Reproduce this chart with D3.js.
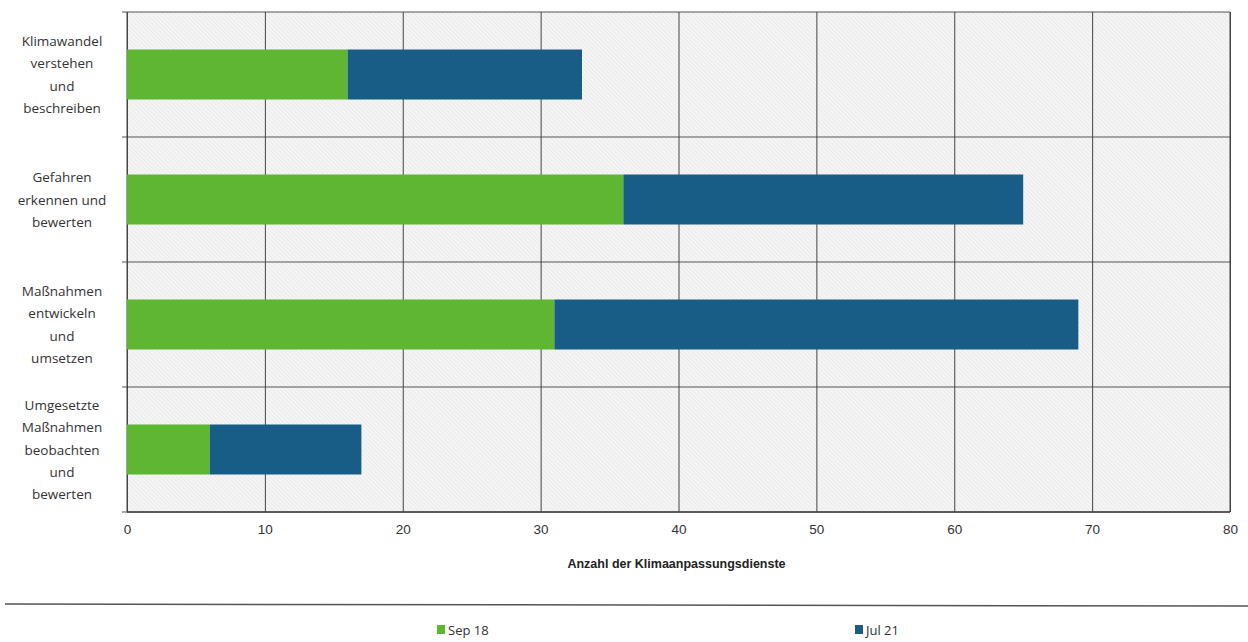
<!DOCTYPE html>
<html>
<head>
<meta charset="utf-8">
<script src="https://cdn.jsdelivr.net/npm/d3@7"></script>
<style>
  body { margin: 0; background: #fff; }
  svg { font-family: "Open Sans", "Liberation Sans", sans-serif; }
</style>
</head>
<body>
<svg></svg>
<script>
const categories = [
  ["Klimawandel", "verstehen", "und", "beschreiben"],
  ["Gefahren", "erkennen und", "bewerten"],
  ["Maßnahmen", "entwickeln", "und", "umsetzen"],
  ["Umgesetzte", "Maßnahmen", "beobachten", "und", "bewerten"]
];
const sep18 = [16, 36, 31, 6];
const jul21 = [17, 29, 38, 11];
const seriesNames = ["Sep 18", "Jul 21"];
const colors = ["#5fb632", "#175d86"];
const xTicks = [0, 10, 20, 30, 40, 50, 60, 70, 80];
const xAxisLabel = "Anzahl der Klimaanpassungsdienste";

const width = 1248, height = 642;
const svg = d3.select("svg").attr("width", width).attr("height", height);

const margin = { left: 127, right: 18, top: 12, bottom: 130 };
const graphWidth = width - margin.left - margin.right;
const graphHeight = height - margin.top - margin.bottom;

const defs = svg.append("defs");
const pat = defs.append("pattern")
  .attr("id", "hatch")
  .attr("patternUnits", "userSpaceOnUse")
  .attr("width", 3).attr("height", 3)
  .attr("patternTransform", "rotate(-45)");
pat.append("rect").attr("width", 3).attr("height", 3).attr("fill", "#f5f5f5");
pat.append("line").attr("x1", 0).attr("y1", 0).attr("x2", 0).attr("y2", 3)
  .attr("stroke", "#dadada").attr("stroke-width", 0.8);

const xScale = d3.scaleLinear().domain([0, 80]).range([0, graphWidth]);
const idx = d3.range(categories.length);
const yScale = d3.scaleBand().domain(idx).range([0, graphHeight]).paddingInner(0.6).paddingOuter(0.3);
const bandScale = d3.scaleBand().domain(idx).range([0, graphHeight]);

const g = svg.append("g").attr("transform", `translate(${margin.left}, ${margin.top})`);

g.append("rect").attr("width", graphWidth).attr("height", graphHeight).attr("fill", "url(#hatch)");

// horizontal category separators
g.append("g").selectAll("line")
  .data(d3.range(categories.length + 1))
  .join("line")
  .attr("x1", -5).attr("x2", graphWidth)
  .attr("y1", (d) => d * bandScale.bandwidth())
  .attr("y2", (d) => d * bandScale.bandwidth())
  .attr("stroke", "#555").attr("stroke-width", 1);

// vertical gridlines + x axis
const xAxis = d3.axisBottom(xScale).tickValues(xTicks).tickSize(-graphHeight).tickPadding(12);
const xAxisG = g.append("g").attr("transform", `translate(0, ${graphHeight})`).call(xAxis);
xAxisG.select(".domain").remove();
xAxisG.selectAll(".tick line").attr("stroke", "#444");
xAxisG.selectAll(".tick text").attr("font-size", 13.5).attr("fill", "#333");
xAxisG.append("text")
  .attr("x", graphWidth / 2 - 2).attr("y", 56)
  .attr("text-anchor", "middle")
  .attr("fill", "#222").attr("font-size", 12.5).attr("font-weight", "bold")
  .text(xAxisLabel);

// frame lines
g.append("line").attr("x1", 0).attr("x2", 0).attr("y1", 0).attr("y2", graphHeight).attr("stroke", "#444");
g.append("line").attr("x1", graphWidth).attr("x2", graphWidth).attr("y1", 0).attr("y2", graphHeight).attr("stroke", "#444");
g.append("line").attr("x1", 0).attr("x2", graphWidth).attr("y1", graphHeight).attr("y2", graphHeight).attr("stroke", "#444").attr("stroke-width", 1.5);

// stacked bars
const stacked = idx.map((i) => ({ i, a: sep18[i], b: jul21[i] }));
g.append("g").selectAll("rect.s1").data(stacked).join("rect")
  .attr("x", 0).attr("y", (d) => yScale(d.i))
  .attr("width", (d) => xScale(d.a)).attr("height", yScale.bandwidth())
  .attr("fill", colors[0]);
g.append("g").selectAll("rect.s2").data(stacked).join("rect")
  .attr("x", (d) => xScale(d.a)).attr("y", (d) => yScale(d.i))
  .attr("width", (d) => xScale(d.a + d.b) - xScale(d.a)).attr("height", yScale.bandwidth())
  .attr("fill", colors[1]);

// category labels
const lineH = 22.2;
categories.forEach((lines, i) => {
  const cy = bandScale(i) + bandScale.bandwidth() / 2;
  const t = g.append("text").attr("text-anchor", "middle").attr("font-size", 13.5).attr("fill", "#333");
  lines.forEach((ln, k) => {
    t.append("tspan").attr("x", -65)
      .attr("y", cy + (k - (lines.length - 1) / 2) * lineH + 5)
      .text(ln);
  });
});

// separator line above legend
svg.append("line").attr("x1", 5).attr("x2", width).attr("y1", 604).attr("y2", 606)
  .attr("stroke", "#555").attr("stroke-width", 1.5);

// legend
const legendX = [437, 855];
const lg = svg.append("g").selectAll("g").data(seriesNames).join("g")
  .attr("transform", (d, i) => `translate(${legendX[i]}, 631)`);
lg.append("rect").attr("x", 0).attr("y", -6).attr("width", 8).attr("height", 9)
  .attr("fill", (d, i) => colors[i]);
lg.append("text").attr("x", 11).attr("y", 4).attr("font-size", 13).attr("fill", "#333").text((d) => d);
</script>
</body>
</html>
